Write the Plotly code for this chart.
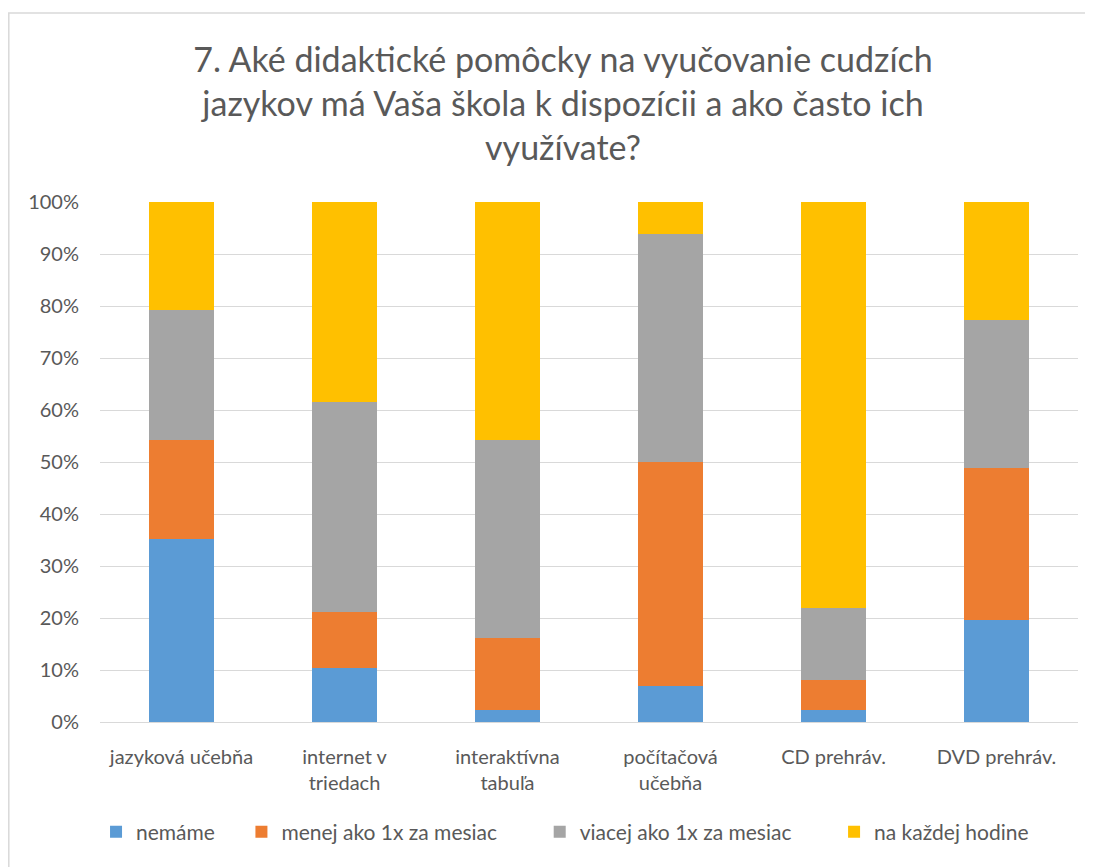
import plotly.graph_objects as go

categories = ["jazyková učebňa", "internet v<br>triedach", "interaktívna<br>tabuľa",
              "počítačová<br>učebňa", "CD prehráv.", "DVD prehráv."]
series_names = ["nemáme", "menej ako 1x za mesiac", "viacej ako 1x za mesiac", "na každej hodine"]
nemame = [35.1, 10.4, 2.3, 7.0, 2.3, 19.7]
menej = [19.2, 10.8, 13.9, 43.0, 5.8, 29.2]
viacej = [25.0, 40.4, 38.1, 43.8, 13.9, 28.5]
kazdej = [20.7, 38.4, 45.7, 6.2, 78.0, 22.6]
colors = ["#5B9BD5", "#ED7D31", "#A5A5A5", "#FFC000"]
y_ticks = [0, 10, 20, 30, 40, 50, 60, 70, 80, 90, 100]
y_ticktext = [f"{v}%" for v in y_ticks]

FONT = "Lato"
TXT = "#595959"

# page body has an 8px margin, so figure coords = screen coords - 8
W, H = 1085, 859
L, T = 92, 194
PW, PH = 978, 520
R = W - L - PW
B = H - T - PH

# extra legend spacing after each entry (in non-breaking spaces)
legend_pad = [4, 7, 7, 0]

fig = go.Figure()
for name, vals, col, pad in zip(series_names, [nemame, menej, viacej, kazdej], colors, legend_pad):
    fig.add_trace(go.Bar(x=categories, y=vals, name=name + "\u00a0" * pad, marker_color=col,
                         marker_line_width=0))

fig.update_layout(
    barmode="stack",
    bargap=0.605,
    width=W, height=H,
    paper_bgcolor="white", plot_bgcolor="white",
    margin=dict(l=L, r=R, t=T, b=B, autoexpand=False),
    font=dict(family=FONT, color=TXT, size=20),
    title=dict(text="7. Aké didaktické pomôcky na vyučovanie cudzích<br>jazykov má Vaša škola k dispozícii a ako často ich<br>využívate?",
               x=555 / W, xanchor="center", y=1 - 64 / H, yanchor="top",
               font=dict(family=FONT, size=34, color=TXT)),
    legend=dict(orientation="h", x=0.4755, xanchor="center", y=-110 / PH, yanchor="middle",
                font=dict(family=FONT, size=21, color=TXT), traceorder="normal",
                itemwidth=30),
    showlegend=True,
    shapes=[dict(type="rect", xref="paper", yref="paper",
                 x0=(0.8 - L) / PW, x1=(1120 - L) / PW,
                 y0=(T + PH - 900) / PH, y1=(T + PH - 5) / PH,
                 line=dict(color="#D9D9D9", width=1.5), layer="below")],
)
fig.update_yaxes(range=[0, 100], tickvals=y_ticks, ticktext=y_ticktext,
                 showgrid=True, gridcolor="#D9D9D9", gridwidth=1,
                 zeroline=False, showline=False, ticks="",
                 tickfont=dict(size=20, color=TXT), ticklabelstandoff=20)
fig.update_xaxes(showline=True, linecolor="#D9D9D9", linewidth=1, ticks="",
                 tickfont=dict(size=20, color=TXT), ticklabelstandoff=17)

fig.write_html("out.html")
